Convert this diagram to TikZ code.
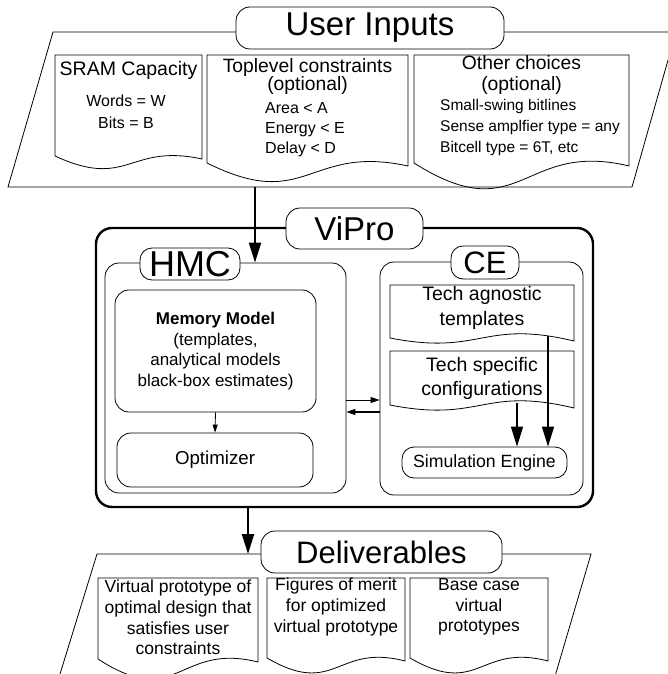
\documentclass[tikz,border=0pt]{standalone}
\usepackage{fontspec}
\setmainfont{Liberation Sans}
\usetikzlibrary{positioning,arrows.meta,calc}

% document outline with a wavy bottom: x1, y1, x2, y-bottom, dip, rise
\newcommand{\docOutline}[6]{%
    \draw[lineThin] (#1,#4) -- (#1,#2) -- (#3,#2) -- (#3,#4+3)
        .. controls ({(#1+#3)/2},{#4+3-#6}) and ({(#1+#3)/2},{#4+#5}) .. (#1,#4) -- cycle;}

\begin{document}
\begin{tikzpicture}[
        x=1pt, y=-1pt,
        lineThin/.style={draw=black, line width=0.8pt},
        titleTag/.style={draw=black, fill=white, rounded corners=14pt, line width=0.8pt, inner sep=0pt, font=\fontsize{#1pt}{#1pt}\selectfont},
        titleTag/.default=33,
        roundBox/.style={draw=black, fill=white, rounded corners=14pt, line width=0.8pt, inner sep=0pt, align=center},
        headText/.style={inner sep=0pt, align=center, font=\fontsize{19.5pt}{20pt}\selectfont},
        bodyText/.style={inner sep=0pt, align=center, font=\fontsize{16pt}{22pt}\selectfont},
        noteText/.style={inner sep=0pt, align=center, font=\fontsize{17.5pt}{20.7pt}\selectfont},
        bigArrow/.style={-{Triangle[length=20pt,width=12pt]}, line width=2.2pt},
        midArrow/.style={-{Triangle[length=20pt,width=12pt]}, line width=1.3pt},
        smallArrow/.style={-{Triangle[length=9pt,width=6pt]}, line width=1pt}
    ]
        \useasboundingbox (0,0) rectangle (668,674);
        \clip (0,0) rectangle (668,674);

        % User inputs
        \draw[lineThin] (53,32) -- (676,32) -- (632,187) -- (8,187) -- cycle;
        \coordinate (inTap) at (255,187);
        \node[titleTag=33, minimum width=268pt, minimum height=42pt] (userLabel) at (370,28) {User Inputs};

        \docOutline{55}{55}{202}{156}{34}{16}
        \node[headText] (sramHead) at (128.5,70) {SRAM Capacity};
        \node[bodyText] (sramBody) at (126,112) {Words = W\\Bits = B};

        \docOutline{207}{55}{408}{163}{50}{22}
        \node[headText, font=\fontsize{19.3pt}{18pt}\selectfont] (topHead) at (307.5,77) {Toplevel constraints\\(optional)};
        \node[bodyText, align=left, anchor=west, font=\fontsize{16pt}{20pt}\selectfont] (topBody) at (265,130) {Area < A\\Energy < E\\Delay < D};

        \docOutline{414}{55}{629}{163}{68}{26}
        \node[headText, font=\fontsize{19.3pt}{21pt}\selectfont] (otherHead) at (521.5,75.5) {Other choices\\(optional)};
        \node[bodyText, align=left, anchor=west, font=\fontsize{15.5pt}{21pt}\selectfont] (otherBody) at (440,127) {Small-swing bitlines\\Sense amplfier type = any\\Bitcell type = 6T, etc};

        % ViPro
        \node[roundBox, line width=2.4pt, rounded corners=16pt, minimum width=497pt, minimum height=279pt] (viproBox) at (344.5,367.5) {};
        \node[titleTag=33, minimum width=137pt, minimum height=41pt] (viproLabel) at (354.5,228.5) {ViPro};

        % HMC
        \node[roundBox, minimum width=241pt, minimum height=230pt] (hmcBox) at (225.5,378) {};
        \node[titleTag=36, rounded corners=12pt, minimum width=100pt, minimum height=32pt] (hmcLabel) at (190,264) {HMC};
        \node[roundBox, minimum width=201pt, minimum height=122pt, font=\fontsize{17pt}{20.7pt}\selectfont] (memModel) at (215.5,351) {\textbf{Memory Model}\\(templates,\\analytical models\\black-box estimates)};
        \node[roundBox, minimum width=196pt, minimum height=54pt, font=\fontsize{18.7pt}{20pt}\selectfont] (optimizer) at (215,460) {Optimizer};

        % CE
        \node[roundBox, minimum width=203pt, minimum height=233pt] (ceBox) at (481.5,378.5) {};
        \node[titleTag=31, rounded corners=12pt, minimum width=68pt, minimum height=33pt] (ceLabel) at (485,262.5) {CE};
        \docOutline{390}{285}{574}{338}{18}{22}
        \node[headText, font=\fontsize{19.5pt}{25pt}\selectfont] (agnText) at (482,307.5) {Tech agnostic\\templates};
        \docOutline{390}{351}{574}{405}{18}{22}
        \node[headText, font=\fontsize{19.5pt}{24pt}\selectfont] (specText) at (482,378) {Tech specific\\configurations};
        \node[roundBox, rounded corners=12pt, minimum width=165pt, minimum height=31pt, font=\fontsize{17.7pt}{20pt}\selectfont] (simEngine) at (484.5,462.5) {Simulation Engine};
        \coordinate (agnTap) at (548,336);
        \coordinate (specTap) at (517,403);

        \draw[bigArrow] (inTap) -- (inTap |- hmcBox.north);
        \draw[smallArrow, line width=0.8pt, -{Triangle[length=8pt,width=5pt]}] (memModel.south) -- (optimizer.north);
        \draw[smallArrow] ([yshift=-22pt]hmcBox.east) -- ([yshift=-22pt]hmcBox.east -| ceBox.west);
        \draw[smallArrow, line width=1.3pt] ([yshift=-34pt]hmcBox.east -| ceBox.west) -- ([yshift=-34pt]hmcBox.east);
        \draw[midArrow] (agnTap) -- (agnTap |- simEngine.north);
        \draw[midArrow] (specTap) -- (specTap |- simEngine.north);

        % Deliverables
        \draw[lineThin] (97,554) -- (591,554) -- (548,700) -- (52,700) -- cycle;
        \coordinate (outTap) at (248,554);
        \draw[bigArrow] (viproBox.south -| outTap) -- (outTap);
        \node[titleTag=31, minimum width=241pt, minimum height=42pt] (delivLabel) at (381.5,552) {Deliverables};

        \docOutline{98}{578}{258}{659}{52}{20}
        \node[noteText] (protoText) at (178,617.5) {Virtual prototype of\\optimal design that\\satisfies user\\constraints};
        \docOutline{267}{578}{405}{658}{40}{18}
        \node[noteText] (meritText) at (336,607) {Figures of merit\\for optimized\\virtual prototype};
        \docOutline{410}{578}{548}{658}{40}{18}
        \node[noteText] (baseText) at (479,607) {Base case\\virtual\\prototypes};
    \end{tikzpicture}
\end{document}
